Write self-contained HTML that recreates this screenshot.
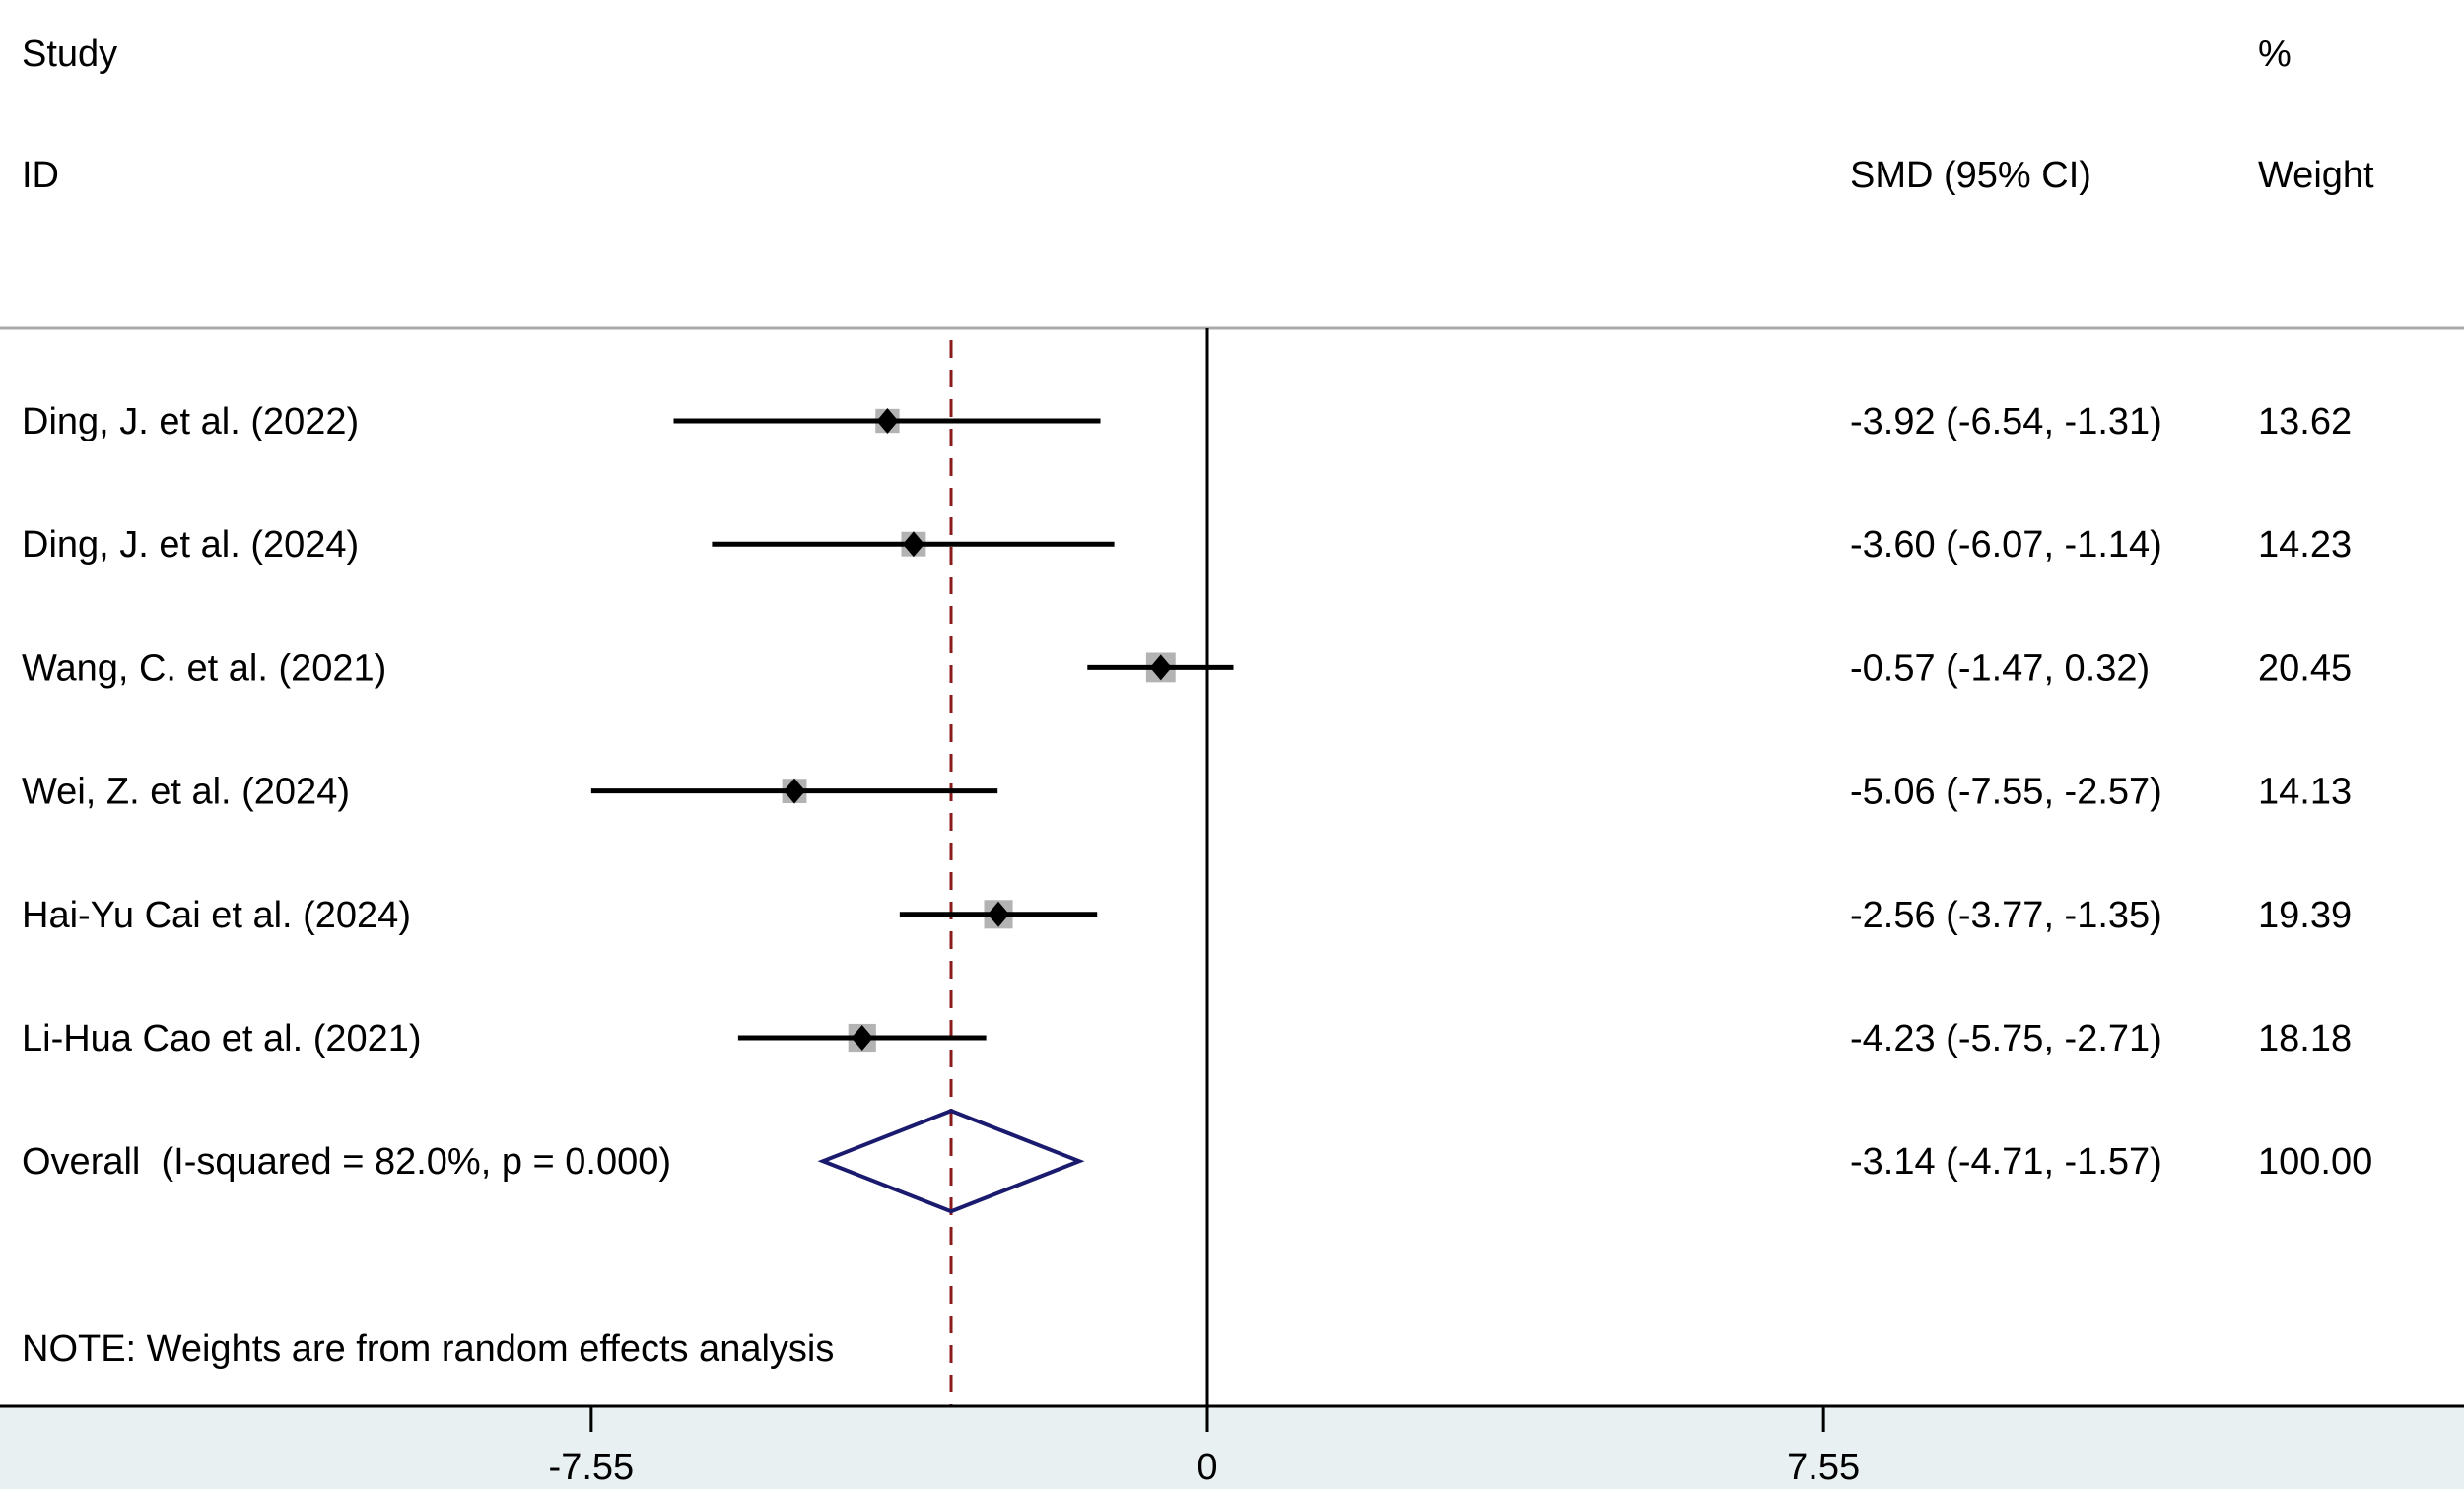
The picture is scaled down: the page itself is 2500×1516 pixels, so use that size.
<!DOCTYPE html>
<html><head><meta charset="utf-8"><style>
html,body{margin:0;padding:0;background:#fff}
svg text{font-family:"Liberation Sans",Arial,sans-serif;font-size:38px;fill:#000;white-space:pre}
</style></head><body>
<svg id="chart" width="2500" height="1511" viewBox="0 0 2500 1511" xmlns="http://www.w3.org/2000/svg">
<rect x="0" y="1427" width="2500" height="84" fill="#e9f0f2"/>
<line x1="0" y1="333" x2="2500" y2="333" stroke="#aaa" stroke-width="3"/>
<text x="22" y="67">Study</text>
<text x="22" y="190">ID</text>
<text x="2291" y="67">%</text>
<text x="1877" y="190">SMD (95% CI)</text>
<text x="2291" y="190">Weight</text>
<text x="22" y="1381">NOTE: Weights are from random effects analysis</text>
<g id="marks"></g>
</svg>
<script>
const studies = ["Ding, J. et al. (2022)","Ding, J. et al. (2024)","Wang, C. et al. (2021)","Wei, Z. et al. (2024)","Hai-Yu Cai et al. (2024)","Li-Hua Cao et al. (2021)"];
const est = [-3.92,-3.60,-0.57,-5.06,-2.56,-4.23];
const lo = [-6.54,-6.07,-1.47,-7.55,-3.77,-5.75];
const hi = [-1.31,-1.14,0.32,-2.57,-1.35,-2.71];
const weights = [13.62,14.23,20.45,14.13,19.39,18.18];
const overall = [-3.14,-4.71,-1.57];
const overallLabel = "Overall  (I-squared = 82.0%, p = 0.000)";
const ticks = [-7.55,0,7.55];
const tickLabels = ["-7.55","0","7.55"];

const NS="http://www.w3.org/2000/svg";
const g=document.getElementById('marks');
const X=v=>1225+v*82.8;
const Y=i=>427+i*125.2;
const yTop=333, yAxis=1427;
function mk(tag,attrs,parent){const e=document.createElementNS(NS,tag);for(const k in attrs)e.setAttribute(k,attrs[k]);(parent||g).appendChild(e);return e;}
const fmt=v=>v.toFixed(2);

let z=mk('line',{x1:X(0),y1:yTop,x2:X(0),y2:yAxis,stroke:'#000','stroke-width':3});


let d=mk('line',{x1:X(overall[0]),y1:345,x2:X(overall[0]),y2:yAxis,stroke:'#8b1a1a','stroke-width':3,'stroke-dasharray':'18 12'});



studies.forEach((s,i)=>{
  const y=Y(i);
  const side=6.6*Math.sqrt(weights[i]);
  let b=mk('rect',{x:X(est[i])-side/2,y:y-side/2,width:side,height:side,fill:'#b3b3b3'});
  
  
  let l=mk('line',{x1:X(lo[i]),y1:y,x2:X(hi[i]),y2:y,stroke:'#000','stroke-width':5});
  
  
  const cx=X(est[i]);
  let p=mk('polygon',{points:`${cx},${y-13} ${cx+11},${y} ${cx},${y+13} ${cx-11},${y}`,fill:'#000'});
  
  
  let t=mk('text',{x:22,y:y+13});t.textContent=s;
  
  
  let t2=mk('text',{x:1877,y:y+13});t2.textContent=`${fmt(est[i])} (${fmt(lo[i])}, ${fmt(hi[i])})`;
  
  
  let t3=mk('text',{x:2291,y:y+13});t3.textContent=fmt(weights[i]);
  
  
});
const oy=Y(6);
let od=mk('polygon',{points:`${X(overall[1])},${oy} ${X(overall[0])},${oy-51} ${X(overall[2])},${oy} ${X(overall[0])},${oy+51}`,fill:'none',stroke:'#1a1a6e','stroke-width':4});


let ot=mk('text',{x:22,y:oy+13});ot.textContent=overallLabel;


let ot2=mk('text',{x:1877,y:oy+13});ot2.textContent=`${fmt(overall[0])} (${fmt(overall[1])}, ${fmt(overall[2])})`;


let ot3=mk('text',{x:2291,y:oy+13});ot3.textContent="100.00";



let ax=mk('line',{x1:0,y1:yAxis,x2:2500,y2:yAxis,stroke:'#000','stroke-width':3});


ticks.forEach((v,i)=>{
  let tk=mk('line',{x1:X(v),y1:yAxis,x2:X(v),y2:1453,stroke:'#000','stroke-width':3});
  
  
  let tl=mk('text',{x:X(v),y:1501,'text-anchor':'middle'});tl.textContent=tickLabels[i];
  
  
});
</script>
</body></html>
